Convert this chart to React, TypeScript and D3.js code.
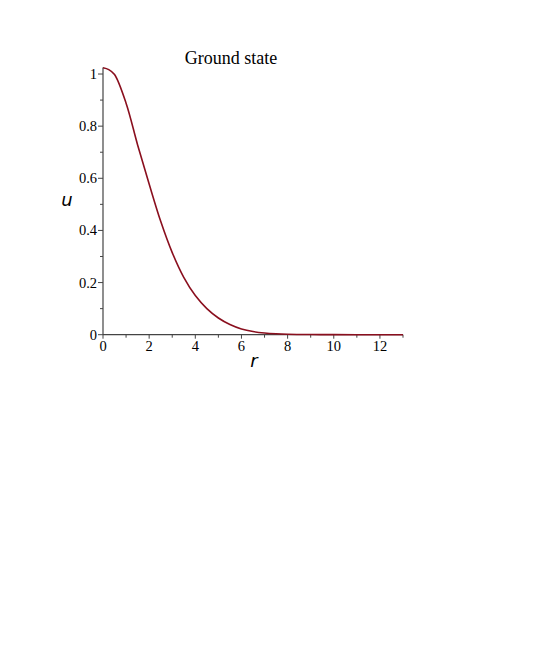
import React, {Component} from 'react';
import * as d3 from 'd3';

// values
const rVals = [0, 0.25, 0.5, 1, 1.5, 2, 2.5, 3, 3.5, 4, 4.5, 5, 5.5, 6, 6.5, 7, 7.5, 8, 9, 10, 11, 12, 13];
const uVals = [1.024, 1.017, 0.998, 0.888, 0.728, 0.578, 0.435, 0.315, 0.22, 0.15, 0.1, 0.064, 0.039, 0.022, 0.012, 0.0065, 0.0035, 0.0018, 0.0005, 0.0001, 0, 0, 0];
const xTicks = [0, 2, 4, 6, 8, 10, 12];
const yTicks = [0, 0.2, 0.4, 0.6, 0.8, 1];
const title = 'Ground state';

class App extends Component {
  box = React.createRef<HTMLDivElement>();

  render(){
    return(
      <div ref={this.box} style={{position: 'absolute', left: 0, top: 0}}> </div>
    )
  }

  componentDidMount(){
    let me = this;
    const box = me.box.current;
    d3.select(box).selectAll('*').remove();
    const width = 545;
    const height = 654;

    let svg = d3.select(box)
      .append('svg')
      .attr('width', width)
      .attr('height', height)
      .style('display', 'block');

    const x = d3.scaleLinear().domain([0, 13]).range([103, 403]);
    const y = d3.scaleLinear().domain([0, 1.025]).range([334.7, 67.5]);
    const axisColor = '#444';

    // axes lines
    svg.append('line')
      .attr('x1', x(0)).attr('x2', x(13))
      .attr('y1', y(0)).attr('y2', y(0))
      .attr('stroke', axisColor).attr('stroke-width', 1.2);
    svg.append('line')
      .attr('x1', x(0)).attr('x2', x(0))
      .attr('y1', y(0)).attr('y2', y(1.025))
      .attr('stroke', axisColor).attr('stroke-width', 1.2);

    // x ticks
    d3.range(0, 14).forEach(v => {
      let major = v % 2 === 0;
      svg.append('line')
        .attr('x1', x(v)).attr('x2', x(v))
        .attr('y1', y(0)).attr('y2', y(0) + (major ? 4 : 3))
        .attr('stroke', axisColor).attr('stroke-width', 1);
    });
    xTicks.forEach(v => {
      me._text(svg, x(v), 351, 14.5, '#000', 'middle', String(v), 'Liberation Serif', 'normal');
    });

    // y ticks
    d3.range(0, 11).forEach(i => {
      let v = i / 10;
      let major = i % 2 === 0;
      svg.append('line')
        .attr('x1', x(0) - (major ? 5 : 3)).attr('x2', x(0))
        .attr('y1', y(v)).attr('y2', y(v))
        .attr('stroke', axisColor).attr('stroke-width', 1);
    });
    yTicks.forEach(v => {
      me._text(svg, 97, y(v) + 5, 14.5, '#000', 'end', String(v), 'Liberation Serif', 'normal');
    });

    // curve
    const line = d3.line<number>()
      .x((d, i) => x(rVals[i]))
      .y(d => y(d))
      .curve(d3.curveCatmullRom.alpha(0.5));
    svg.append('path')
      .attr('d', line(uVals))
      .attr('fill', 'none')
      .attr('stroke', '#8a0f1e')
      .attr('stroke-width', 1.6);

    // labels
    me._text(svg, 231, 64, 18, '#000', 'middle', title, 'Liberation Serif', 'normal');
    me._text(svg, 67, 206, 18, '#000', 'middle', 'u', 'DejaVu Sans', 'italic');
    me._text(svg, 254, 367, 18, '#000', 'middle', 'r', 'DejaVu Sans', 'italic');
  }

  _text(g, x, y, size, color, anchor, text, family, style){
    g.append('text')
      .attr('x', x)
      .attr('y', y)
      .attr('font-size', size)
      .attr('fill', color)
      .attr('text-anchor', anchor)
      .attr('font-family', family)
      .attr('font-style', style)
      .text(text);
  }
}
export default App;
